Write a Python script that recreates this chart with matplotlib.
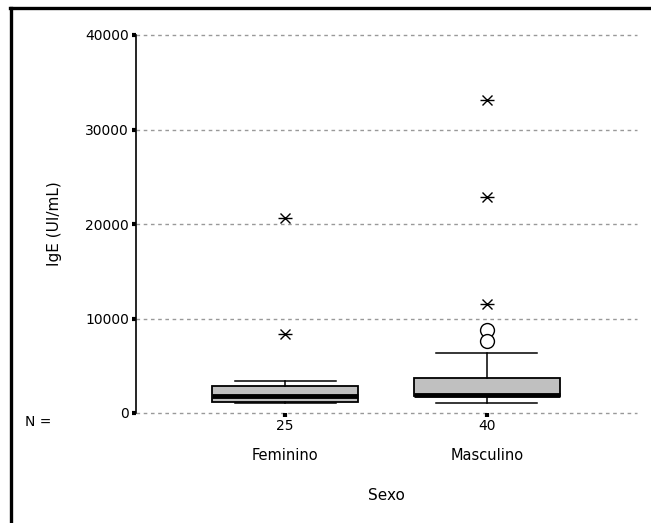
import matplotlib
matplotlib.use("Agg")
import matplotlib.pyplot as plt
from matplotlib.lines import Line2D
import matplotlib.transforms as mtrans

plt.rcParams['font.family'] = ['DejaVu Sans']
plt.rcParams['lines.scale_dashes'] = False

# data
groups = ['Feminino', 'Masculino']
counts = [25, 40]
q1 = [1200, 1830]
med = [1830, 1950]
q3 = [2890, 3740]
wlo = [1100, 1090]
whi = [3390, 6320]
outlier_circles = [[], [8800, 7600]]
outlier_stars = [[8400, 20600], [11500, 22900, 33100]]
yticks = [0, 10000, 20000, 30000, 40000]

fig = plt.figure(figsize=(6.51, 5.23), dpi=100)
ax = fig.add_axes([136/651, 1-413/523, 501/651, 378/523])

stats = []
for i in range(len(groups)):
    stats.append(dict(label=groups[i], q1=q1[i], med=med[i], q3=q3[i],
                      whislo=wlo[i], whishi=whi[i], fliers=[]))
pos = [1, 2]
ax.bxp(stats, positions=pos, widths=0.723, patch_artist=True, showfliers=False,
       boxprops=dict(facecolor='#c0c0c0', edgecolor='black', linewidth=1.3),
       medianprops=dict(color='black', linewidth=3.5),
       whiskerprops=dict(color='black', linewidth=1.1),
       capprops=dict(color='black', linewidth=1.1),
       capwidths=0.5)

for i, p in enumerate(pos):
    if outlier_circles[i]:
        ax.plot([p]*len(outlier_circles[i]), outlier_circles[i], 'o', ms=10,
                mfc='white', mec='black', mew=1.0, zorder=5)
    # extreme values: asterisk = horizontal bar + x
    xs = [p]*len(outlier_stars[i])
    ax.plot(xs, outlier_stars[i], ls='none', marker='_', ms=9.5,
            mec='black', mew=1.0, zorder=5)
    ax.plot(xs, outlier_stars[i], ls='none', marker='x', ms=6.5,
            mec='black', mew=1.0, zorder=5)

ax.set_xlim(0.262, 2.743)
ax.set_ylim(0, 40000)
ax.set_yticks(yticks)
ax.set_yticklabels([str(v) for v in yticks])
ax.set_xticks(pos)
ax.set_xticklabels([str(c) for c in counts])
for y in yticks:
    ax.axhline(y, color='#999999', lw=1.0, ls=(0, (2.6, 2.6)), zorder=0,
               clip_on=False)

for s in ['top', 'right', 'bottom']:
    ax.spines[s].set_visible(False)
ax.spines['left'].set_linewidth(1.2)
ax.tick_params(axis='y', length=3, width=3, pad=2, labelsize=10)
ax.tick_params(axis='x', length=3, width=3, pad=1, labelsize=10)

trans = mtrans.blended_transform_factory(ax.transData, fig.transFigure)
for i, p in enumerate(pos):
    ax.text(p, 1-455/523, groups[i], transform=trans, ha='center', va='center',
            fontsize=10.5)
fig.text(38/651, 1-422/523, 'N =', ha='center', va='center', fontsize=10)
fig.text(386/651, 1-495/523, 'Sexo', ha='center', va='center', fontsize=11)
fig.text(55/651, 1-224/523, 'IgE (UI/mL)', ha='center', va='center',
         rotation=90, fontsize=11)

# frame lines at left and top
fig.add_artist(Line2D([10.5/651, 10.5/651], [0, 1-8/523], color='black', lw=2.4,
                      transform=fig.transFigure))
fig.add_artist(Line2D([9.5/651, 1], [1-8/523, 1-8/523], color='black', lw=2.4,
                      transform=fig.transFigure))

fig.savefig('out.png', dpi=100)
